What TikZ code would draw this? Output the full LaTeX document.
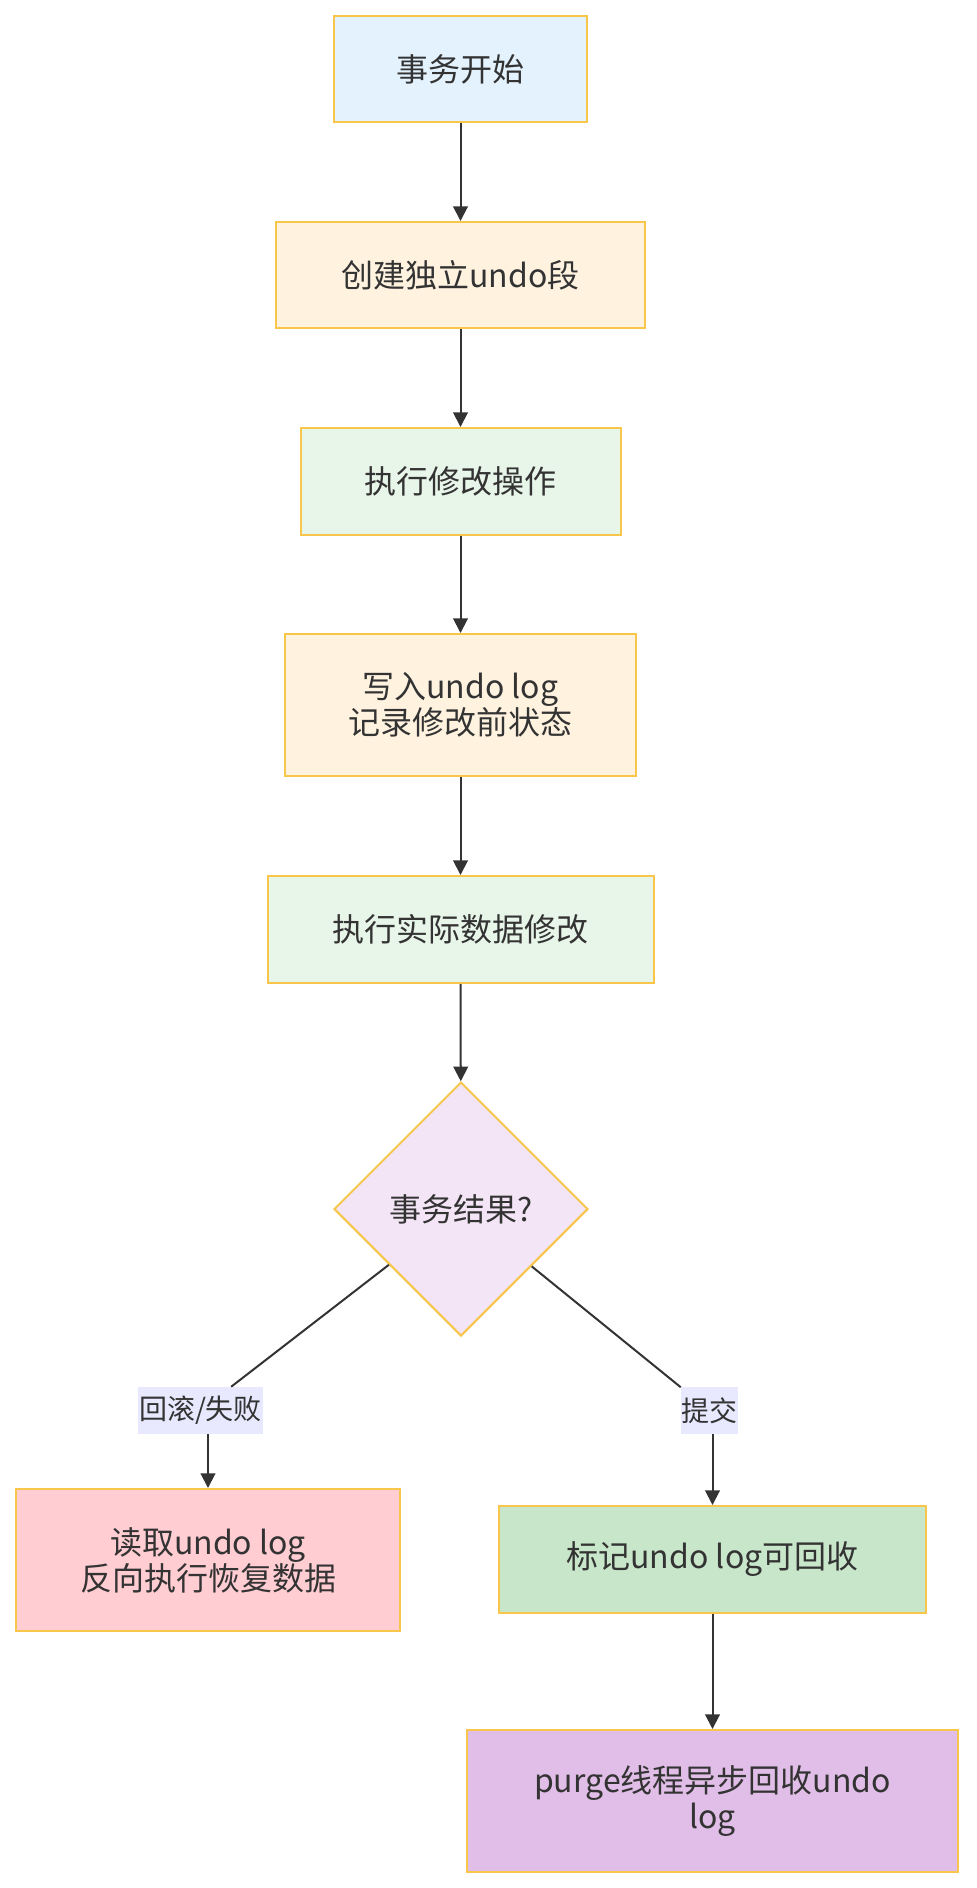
\documentclass[tikz,border=0pt]{standalone}
\usepackage{fontspec}
\newfontfamily\cjk{Noto Sans CJK SC}
\usepackage{tikz}
\usetikzlibrary{shapes.geometric}
\usetikzlibrary{arrows.meta}

\definecolor{boxline}{HTML}{F7C64A}
\definecolor{inkgray}{HTML}{333333}
\definecolor{startblue}{HTML}{E3F2FD}
\definecolor{prepcream}{HTML}{FFF3E0}
\definecolor{runmint}{HTML}{E8F5E9}
\definecolor{askpurple}{HTML}{F3E5F5}
\definecolor{failred}{HTML}{FFCDD2}
\definecolor{okgreen}{HTML}{C8E6C9}
\definecolor{purgepurple}{HTML}{E1BEE7}
\definecolor{tagbg}{HTML}{E8E8FF}

\begin{document}
\begin{tikzpicture}[x=0.75pt, y=-0.75pt,
    stepbox/.style={draw=boxline, line width=1.5pt, text=inkgray, align=center,
        font=\cjk\fontsize{24}{27}\selectfont, inner sep=0pt},
    edgetag/.style={fill=tagbg, text=inkgray, inner sep=0pt,
        font=\cjk\fontsize{21}{24}\selectfont},
    flow/.style={draw=inkgray, line width=1.5pt, -{Triangle[length=11pt, width=11pt]}},
    branch/.style={draw=inkgray, line width=1.5pt}]
    \useasboundingbox (0,0) rectangle (976,1888);

    % Main steps of the transaction
    \node[stepbox, fill=startblue, minimum width=189.75pt, minimum height=79.5pt] (start) at (460.5,69) {事务开始};
    \node[stepbox, fill=prepcream, minimum width=276.75pt, minimum height=79.5pt] (seg) at (460.5,275) {创建独立undo段};
    \node[stepbox, fill=runmint, minimum width=240pt, minimum height=80.25pt] (modop) at (460.5,481.5) {执行修改操作};
    \node[stepbox, fill=prepcream, minimum width=263.25pt, minimum height=106.5pt] (wlog) at (460.5,705) {写入undo log\\记录修改前状态};
    \node[stepbox, fill=runmint, minimum width=289.5pt, minimum height=80.25pt] (apply) at (460.5,929.5) {执行实际数据修改};

    % Decision
    \node[stepbox, diamond, aspect=1, fill=askpurple, minimum width=190.5pt, minimum height=190.5pt] (dec) at (461,1209) {事务结果?};

    % Edge labels
    \node[edgetag, minimum width=93.75pt, minimum height=35.25pt] (lfail) at (200.5,1410.5) {回滚/失败};
    \node[edgetag, minimum width=42.75pt, minimum height=35.25pt] (lcommit) at (709.5,1410.5) {提交};

    % Outcomes
    \node[stepbox, fill=failred, minimum width=288pt, minimum height=106.5pt] (undo) at (208,1560) {读取undo log\\反向执行恢复数据};
    \node[stepbox, fill=okgreen, minimum width=320.25pt, minimum height=80.25pt] (mark) at (712.5,1559.5) {标记undo log可回收};
    \node[stepbox, fill=purgepurple, minimum width=368.25pt, minimum height=106.5pt] (purge) at (712.5,1801) {purge线程异步回收undo\\log};

    % Arrows between steps
    \draw[flow] (start) -- (seg);
    \draw[flow] (seg) -- (modop);
    \draw[flow] (modop) -- (wlog);
    \draw[flow] (wlog) -- (apply);
    \draw[flow] (apply) -- (dec);

    % Branches
    \draw[branch] (dec) -- (lfail);
    \draw[flow] (lfail.south -| undo.north) -- (undo.north);
    \draw[branch] (dec) -- (lcommit);
    \draw[flow] (lcommit.south -| mark.north) -- (mark.north);
    \draw[flow] (mark) -- (purge);

\end{tikzpicture}
\end{document}
